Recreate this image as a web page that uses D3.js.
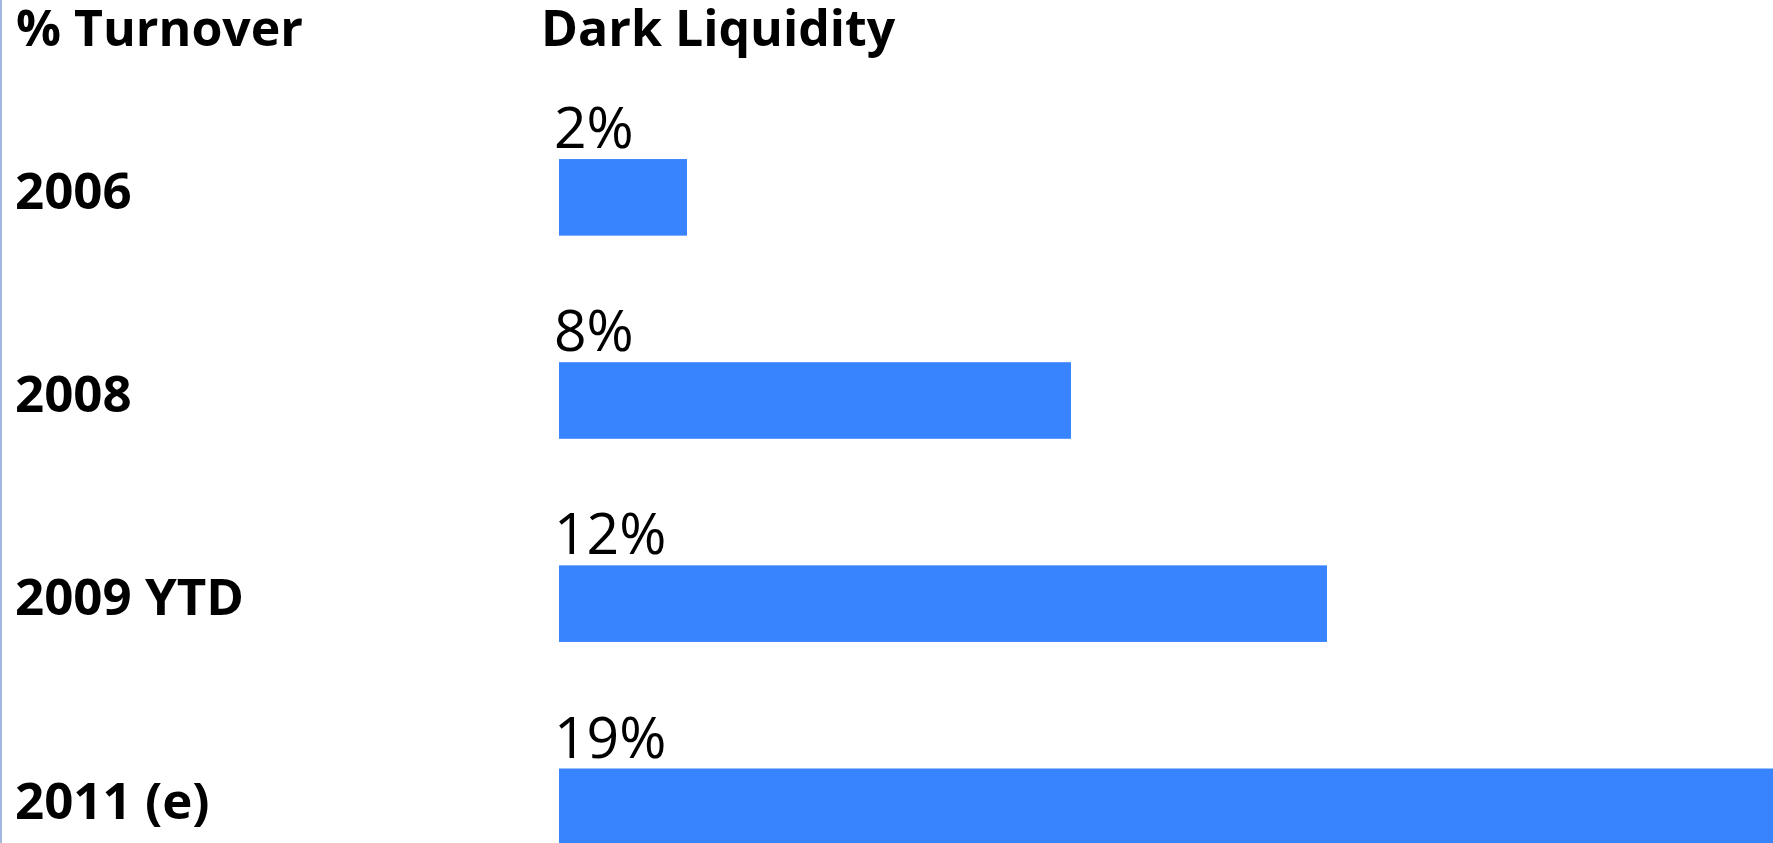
<!DOCTYPE html>
<html lang="en">
<head>
    <meta charset="utf-8">
    <title>Dark Liquidity</title>
    <script src="https://cdn.jsdelivr.net/npm/d3@7"></script>
    <style>
        body { margin: 0; background: #fff; overflow: hidden; }
        text { font-family: "Open Sans", "Noto Sans", sans-serif; fill: #000; }
        .head { font-weight: 700; font-size: 50px; }
        .cat { font-weight: 700; font-size: 51px; }
        .val { font-size: 57px; }
    </style>
</head>
<body>
<script>
    var categories = ["2006", "2008", "2009 YTD", "2011 (e)"];
    var values = [2, 8, 12, 19];
    var valueLabels = ["2%", "8%", "12%", "19%"];
    var headers = ["% Turnover", "Dark Liquidity"];

    var w = 1773, h = 843;

    var svg = d3.select("body").append("svg")
        .attr("width", w)
        .attr("height", h);

    // thin frame line on the left edge
    svg.append("rect")
        .attr("x", 0).attr("y", 0)
        .attr("width", 2).attr("height", h)
        .attr("fill", "#a3b6de");

    var xScale = d3.scaleLinear()
        .domain([0, 19])
        .range([559, 1775]);

    var step = 203, firstTop = 159;
    var yScale = d3.scaleBand()
        .domain(categories)
        .range([firstTop - step * 0.31, firstTop + step * 3.69])
        .paddingInner(0.623)
        .paddingOuter(0.31);

    var data = categories.map(function(c, i) {
        return {cat: c, value: values[i], label: valueLabels[i]};
    });

    // headers
    svg.append("text").attr("class", "head")
        .attr("x", 16).attr("y", 46)
        .text(headers[0]);
    svg.append("text").attr("class", "head")
        .attr("x", 541).attr("y", 46)
        .text(headers[1]);

    svg.selectAll("rect.bar")
        .data(data)
        .enter()
        .append("rect")
        .attr("class", "bar")
        .attr("x", xScale(0))
        .attr("y", function(d) { return yScale(d.cat); })
        .attr("width", function(d) { return xScale(d.value) - xScale(0); })
        .attr("height", yScale.bandwidth())
        .attr("fill", "#3883fe");

    svg.selectAll("text.cat")
        .data(data)
        .enter()
        .append("text")
        .attr("class", "cat")
        .attr("x", 15)
        .attr("y", function(d) { return yScale(d.cat) + 50; })
        .text(function(d) { return d.cat; });

    svg.selectAll("text.val")
        .data(data)
        .enter()
        .append("text")
        .attr("class", "val")
        .attr("x", xScale(0) - 5)
        .attr("y", function(d) { return yScale(d.cat) - 11; })
        .text(function(d) { return d.label; });
</script>
</body>
</html>
